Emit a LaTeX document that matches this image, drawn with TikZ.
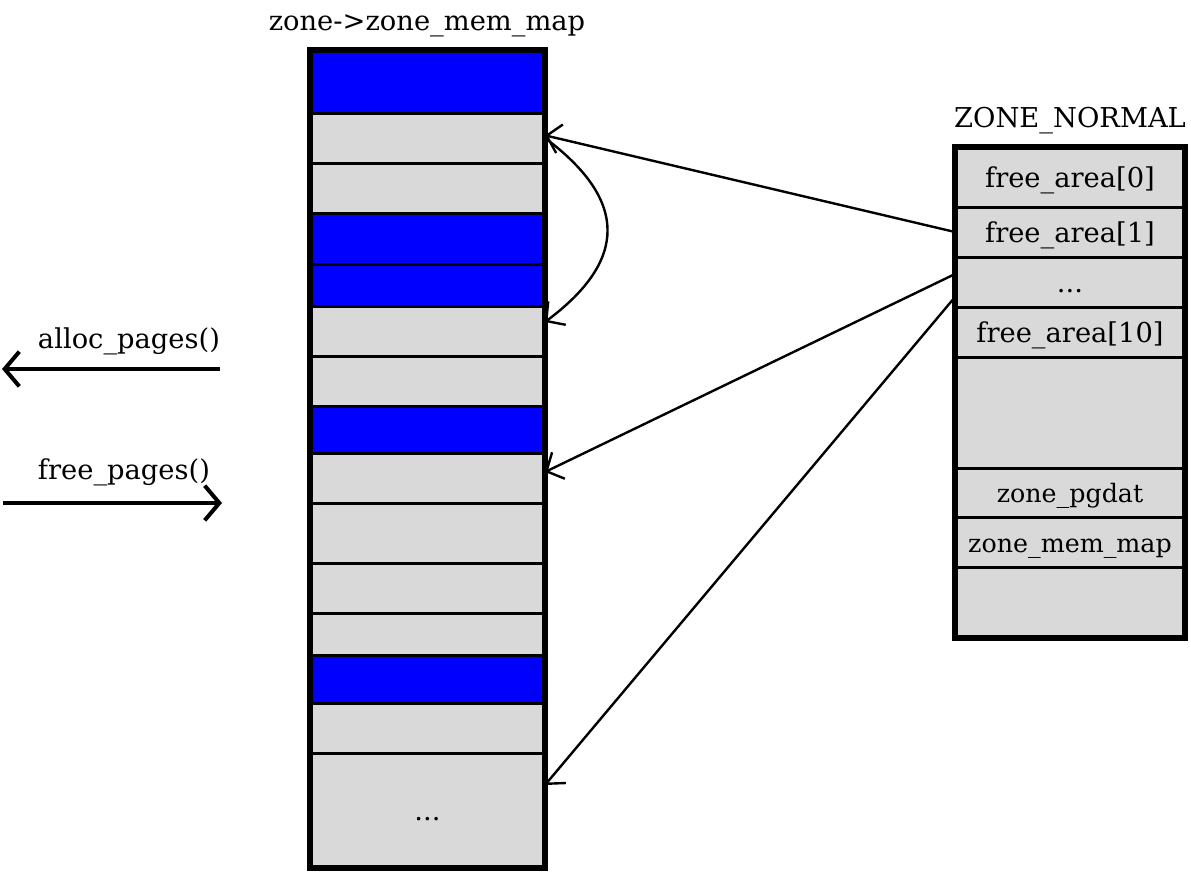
\documentclass[tikz,border=0pt]{standalone}
\usepackage{fontspec}
\setmainfont{DejaVu Serif}
\usetikzlibrary{arrows.meta}
\definecolor{cellgrey}{HTML}{D9D9D9}
\definecolor{pageblue}{HTML}{0000FF}
\newcommand\gapdots{...}
\newcommand\fieldfont{\fontsize{19}{24}\selectfont}
\tikzset{
  cell/.style={draw, line width=2.25pt, outer sep=0pt, inner sep=0pt, anchor=north west},
  frame/.style={draw, line width=4pt},
  lbl/.style={font=\fontsize{20.5}{24}\selectfont, text height=15pt, text depth=4pt},
  ptr/.style={-{Straight Barb[length=10pt,width=22pt]}, line width=1.8pt},
  call/.style={-{Straight Barb[length=11pt,width=26pt]}, line width=3pt},
}
\begin{document}
\begin{tikzpicture}[x=0.75pt, y=-0.75pt]
\useasboundingbox (0,0) rectangle (1191,872);
% zone->zone_mem_map
\foreach \n/\t/\h/\c in {1/50/63/pageblue, 2/113/50/cellgrey, 3/163/50/cellgrey,
    4/213/51/pageblue, 5/264/42/pageblue, 6/306/50/cellgrey, 7/356/50/cellgrey,
    8/406/47/pageblue, 9/453/50/cellgrey, 10/503/60/cellgrey, 11/563/50/cellgrey,
    12/613/42/cellgrey, 13/655/48/pageblue, 14/703/50/cellgrey, 15/753/115/cellgrey} {
    \node[cell, fill=\c, minimum width=176.25pt, minimum height=\h*0.75pt] (m\n) at (310,\t) {};
}
\draw[frame] (m1.north west) rectangle (m15.south east);
\node[lbl, text depth=0pt] (mdots) at (m15.center) {\gapdots};
\node[lbl] (maptitle) at (427,23) {zone->zone\_mem\_map};
% ZONE_NORMAL
\foreach \n/\t/\h/\txt in {1/147/60/free\_area[0], 2/207/50/free\_area[1], 3/257/50/\gapdots,
    4/307/50/free\_area[10], 5/357/111/, 6/468/49/\fieldfont zone\_pgdat,
    7/517/50/\fieldfont zone\_mem\_map, 8/567/71/} {
    \node[cell, fill=cellgrey, lbl, text depth=0pt, minimum width=172.5pt, minimum height=\h*0.75pt] (r\n) at (955,\t) {\txt};
}
\draw[frame] (r1.north west) rectangle (r8.south east);
\node[lbl] (zonetitle) at (1070,120) {ZONE\_NORMAL};
% pointers
\draw[ptr] (r2.west) -- ([yshift=2pt]m2.east);
\draw[ptr] (m2.east) .. controls +(83,62) and +(83,-62) .. ([yshift=-12pt]m6.north east);
\draw[ptr] ([yshift=-12.75pt]r3.north west) -- ([yshift=4.5pt]m9.east);
\draw[ptr] ([yshift=-30pt]r3.north west) -- ([yshift=-24pt]m15.north east);
% calls
\coordinate (allocA) at (220,369);
\coordinate (allocB) at (2,369);
\coordinate (freeA) at (3,503);
\coordinate (freeB) at (222,503);
\draw[call] (allocA) -- (allocB);
\draw[call] (freeA) -- (freeB);
\node[lbl] (alloc) at (129,341) {alloc\_pages()};
\node[lbl] (free) at (124,472) {free\_pages()};
\end{tikzpicture}
\end{document}
